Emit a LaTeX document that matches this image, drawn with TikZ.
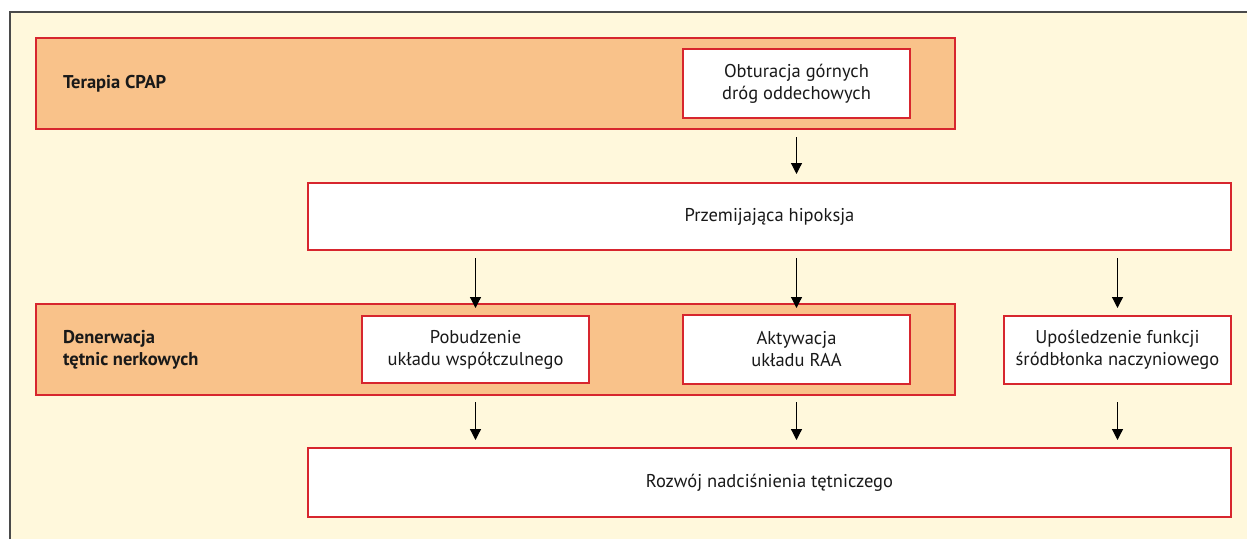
\documentclass[tikz,border=0pt]{standalone}
\usepackage{fontspec}
\setmainfont{PT Sans}
\usetikzlibrary{arrows.meta}
\definecolor{bgc}{HTML}{FFF8DC}
\definecolor{orng}{HTML}{F9C28A}
\definecolor{redb}{HTML}{D7262E}
\definecolor{frm}{HTML}{4A4A4A}
\tikzset{
  every node/.style={inner sep=0pt, outer sep=0pt},
  wbox/.style={draw=redb, line width=1.1pt, fill=white, align=center,
    font=\fontsize{18.5}{22}\selectfont, text=black!90},
  obox/.style={draw=redb, line width=1.1pt, fill=orng},
  blab/.style={anchor=west, align=left, font=\fontsize{18.5}{22}\selectfont\bfseries, text=black!90},
  arr/.style={line width=1.2pt, -{Triangle[length=11pt,width=11pt]}}
}
\begin{document}
\begin{tikzpicture}[x=1pt,y=-1pt]
\useasboundingbox (0,0) rectangle (1247,539);
\fill[bgc] (10,12) rectangle (1247,539);
\draw[frm, line width=1.4pt] (10,539) -- (10,12) -- (1247,12);
% orange groups
\node[obox, minimum width=919pt, minimum height=91pt] (cpap) at (495.5,83.5) {};
\node[obox, minimum width=919pt, minimum height=91pt] (den) at (495.5,349.5) {};
\node[blab] (cpapl) at (63,84) {Terapia CPAP};
\node[blab] (denl) at (63,350) {Denerwacja\\tętnic nerkowych};
% boxes
\node[wbox, minimum width=227pt, minimum height=69pt] (obt) at (796.5,83.5) {Obturacja górnych\\dróg oddechowych};
\node[wbox, minimum width=923pt, minimum height=67pt] (hip) at (769.5,216.5) {Przemijająca hipoksja};
\node[wbox, minimum width=227pt, minimum height=67pt] (pob) at (475.5,349.5) {Pobudzenie\\układu współczulnego};
\node[wbox, minimum width=227pt, minimum height=69pt] (akt) at (796.5,349.5) {Aktywacja\\układu RAA};
\node[wbox, minimum width=227pt, minimum height=68pt] (upo) at (1117.5,350) {Upośledzenie funkcji\\śródbłonka naczyniowego};
\node[wbox, minimum width=923pt, minimum height=69pt] (roz) at (769.5,482.5) {Rozwój nadciśnienia tętniczego};
% arrows
\draw[arr, shorten <=19pt, shorten >=9pt] (obt.south) -- (obt.south |- hip.north);
\draw[arr, shorten <=8pt, shorten >=8pt] (pob.north |- hip.south) -- (pob.north);
\draw[arr, shorten <=8pt, shorten >=7pt] (akt.north |- hip.south) -- (akt.north);
\draw[arr, shorten <=8pt, shorten >=8pt] (upo.north |- hip.south) -- (upo.north);
\draw[arr, shorten <=19pt, shorten >=8pt] (pob.south) -- (pob.south |- roz.north);
\draw[arr, shorten <=18pt, shorten >=8pt] (akt.south) -- (akt.south |- roz.north);
\draw[arr, shorten <=18pt, shorten >=8pt] (upo.south) -- (upo.south |- roz.north);
\end{tikzpicture}
\end{document}
